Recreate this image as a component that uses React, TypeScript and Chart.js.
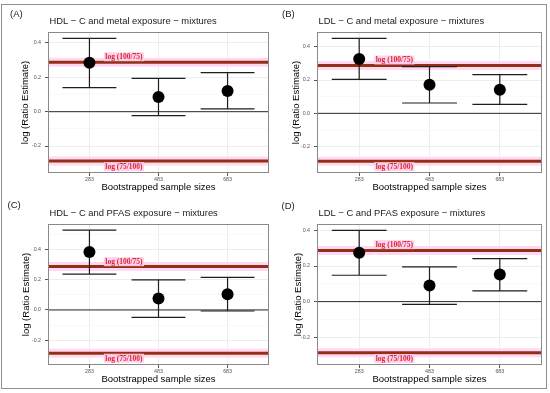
import React, { useEffect, useRef } from 'react';
import { Chart, registerables } from 'chart.js';

Chart.register(...registerables);

// ---------- data ----------
const sampleSizes = ['283', '483', '683'];
const categoryPos = [1, 2, 3];

const hdlMetalEst = [0.285, 0.085, 0.12];
const hdlMetalLow = [0.14, -0.023, 0.016];
const hdlMetalHigh = [0.427, 0.194, 0.227];

const ldlMetalEst = [0.326, 0.172, 0.142];
const ldlMetalLow = [0.204, 0.062, 0.054];
const ldlMetalHigh = [0.45, 0.28, 0.232];

const hdlPfasEst = [0.384, 0.076, 0.104];
const hdlPfasLow = [0.238, -0.049, -0.007];
const hdlPfasHigh = [0.529, 0.2, 0.216];

const ldlPfasEst = [0.274, 0.09, 0.152];
const ldlPfasLow = [0.148, -0.015, 0.06];
const ldlPfasHigh = [0.4, 0.195, 0.242];

const upperRef = Math.log(100 / 75);
const lowerRef = Math.log(75 / 100);
const refLabels = ['log (100/75)', 'log (75/100)'];
const refLabelY = [0.32, -0.32];
const refLabelX = 1.5;

const yTicksShort = [-0.3, -0.2, -0.1, 0, 0.1, 0.2, 0.3, 0.4];
const yTicksTall = [-0.3, -0.2, -0.1, 0, 0.1, 0.2, 0.3, 0.4, 0.5];
const xRange = [0.4, 3.6];

const yRangeA = [-0.357, 0.464];
const yRangeB = [-0.358, 0.488];
const yRangeC = [-0.365, 0.57];
const yRangeD = [-0.356, 0.436];

const panelLabels = ['(A)', '(B)', '(C)', '(D)'];
const panelTitles = [
  'HDL \u2212 C and metal exposure \u2212 mixtures',
  'LDL \u2212 C and metal exposure \u2212 mixtures',
  'HDL \u2212 C and PFAS exposure \u2212 mixtures',
  'LDL \u2212 C and PFAS exposure \u2212 mixtures',
];
const xAxisTitle = 'Bootstrapped sample sizes';
const yAxisTitle = 'log (Ratio Estimate)';

// ---------- styling / layout ----------
const SANS = '"Liberation Sans", Arial, sans-serif';
const SERIF = '"Liberation Serif", "Times New Roman", serif';
const CAP_HALF = 0.39;

type Layout = {
  left: number; top: number; w: number; h: number;
  axisW: number; axisH: number; padTop: number; padRight: number;
  yTitlePad: number; xTitlePad: number; labelX: number; labelY: number;
};

type PanelCfg = {
  label: string; title: string;
  est: number[]; low: number[]; high: number[];
  yRange: number[]; yTicks: number[]; layout: Layout;
};

const panels: PanelCfg[] = [
  {
    label: panelLabels[0], title: panelTitles[0],
    est: hdlMetalEst, low: hdlMetalLow, high: hdlMetalHigh,
    yRange: yRangeA, yTicks: yTicksShort,
    layout: { left: 0, top: 0, w: 275, h: 196, axisW: 48, axisH: 23, padTop: 32, padRight: 3, yTitlePad: 19.3, xTitlePad: 3.3, labelX: 10, labelY: 14 },
  },
  {
    label: panelLabels[1], title: panelTitles[1],
    est: ldlMetalEst, low: ldlMetalLow, high: ldlMetalHigh,
    yRange: yRangeB, yTicks: yTicksShort,
    layout: { left: 275, top: 0, w: 275, h: 196, axisW: 42, axisH: 23, padTop: 32, padRight: 8, yTitlePad: 16, xTitlePad: 3.3, labelX: 7, labelY: 14 },
  },
  {
    label: panelLabels[2], title: panelTitles[2],
    est: hdlPfasEst, low: hdlPfasLow, high: hdlPfasHigh,
    yRange: yRangeC, yTicks: yTicksTall,
    layout: { left: 0, top: 196, w: 275, h: 197, axisW: 48, axisH: 28, padTop: 28, padRight: 3, yTitlePad: 21, xTitlePad: 8, labelX: 7.5, labelY: 9.5 },
  },
  {
    label: panelLabels[3], title: panelTitles[3],
    est: ldlPfasEst, low: ldlPfasLow, high: ldlPfasHigh,
    yRange: yRangeD, yTicks: yTicksShort,
    layout: { left: 275, top: 196, w: 275, h: 197, axisW: 42, axisH: 28, padTop: 28, padRight: 8, yTitlePad: 17.6, xTitlePad: 8, labelX: 6.5, labelY: 10 },
  },
];

const isMajor = (v: number) => Math.round(v * 10) % 2 === 0;

function errorBarPoints(low: number[], high: number[]) {
  const pts: { x: number; y: number | null }[] = [];
  categoryPos.forEach((c, i) => {
    pts.push(
      { x: c - CAP_HALF, y: high[i] }, { x: c + CAP_HALF, y: high[i] }, { x: c, y: null },
      { x: c, y: high[i] }, { x: c, y: low[i] }, { x: c, y: null },
      { x: c - CAP_HALF, y: low[i] }, { x: c + CAP_HALF, y: low[i] }, { x: c, y: null },
    );
  });
  return pts;
}

const hline = (v: number) => [{ x: xRange[0], y: v }, { x: xRange[1], y: v }];

function decorPlugin(cfg: PanelCfg) {
  return {
    id: 'panelDecor',
    afterDatasetsDraw(chart: any) {
      const { ctx, chartArea, scales } = chart;
      ctx.save();
      ctx.font = `bold 7.5px ${SERIF}`;
      ctx.textAlign = 'center';
      ctx.textBaseline = 'middle';
      refLabels.forEach((t, i) => {
        const px = scales.x.getPixelForValue(refLabelX);
        const py = scales.y.getPixelForValue(refLabelY[i]);
        const w = ctx.measureText(t).width;
        ctx.fillStyle = 'rgba(255, 205, 238, 0.9)';
        ctx.fillRect(px - w / 2 - 1.5, py - 4.5, w + 3, 9);
        ctx.fillStyle = '#d8262c';
        ctx.fillText(t, px, py + 0.5);
      });
      // panel border
      ctx.strokeStyle = '#8a8a8a';
      ctx.lineWidth = 1;
      ctx.strokeRect(
        Math.round(chartArea.left) + 0.5, Math.round(chartArea.top) + 0.5,
        Math.round(chartArea.right - chartArea.left) - 1, Math.round(chartArea.bottom - chartArea.top) - 1,
      );
      ctx.restore();
    },
    afterDraw(chart: any) {
      const { ctx, chartArea } = chart;
      ctx.save();
      ctx.fillStyle = '#1a1a1a';
      ctx.textBaseline = 'middle';
      ctx.textAlign = 'left';
      ctx.font = `9.4px ${SANS}`;
      ctx.fillText(cfg.title, chartArea.left + 1.5, chartArea.top - 10.5);
      ctx.font = `9.5px ${SANS}`;
      ctx.fillText(cfg.label, cfg.layout.labelX, cfg.layout.labelY);
      ctx.restore();
    },
  };
}

function Panel({ cfg }: { cfg: PanelCfg }) {
  const ref = useRef<HTMLCanvasElement | null>(null);
  useEffect(() => {
    if (!ref.current) return;
    const L = cfg.layout;
    const points = categoryPos.map((c, i) => ({ x: c, y: cfg.est[i] }));
    const chart = new Chart(ref.current, {
      type: 'scatter',
      data: {
        datasets: [
          {
            data: points, showLine: false, pointRadius: 6, pointHoverRadius: 6,
            backgroundColor: '#000', borderColor: '#000', borderWidth: 0,
          },
          {
            data: errorBarPoints(cfg.low, cfg.high), showLine: true, pointRadius: 0, pointHoverRadius: 0,
            borderColor: '#1e1e1e', borderWidth: 1.2, spanGaps: false,
          },
          {
            data: hline(0), showLine: true, pointRadius: 0, borderColor: '#2a2a2a', borderWidth: 1,
          },
          {
            data: hline(upperRef), showLine: true, pointRadius: 0, borderColor: '#932f14', borderWidth: 3,
          },
          {
            data: hline(lowerRef), showLine: true, pointRadius: 0, borderColor: '#932f14', borderWidth: 3,
          },
          {
            data: hline(upperRef), showLine: true, pointRadius: 0, borderColor: '#ffd8f1', borderWidth: 9,
          },
          {
            data: hline(lowerRef), showLine: true, pointRadius: 0, borderColor: '#ffd8f1', borderWidth: 9,
          },
        ] as any,
      },
      options: {
        animation: false,
        responsive: false,
        devicePixelRatio: 1,
        events: [],
        layout: { padding: { top: L.padTop, right: L.padRight, left: 0, bottom: 0 } },
        plugins: { legend: { display: false }, title: { display: false }, tooltip: { enabled: false } },
        scales: {
          x: {
            type: 'linear',
            min: xRange[0], max: xRange[1],
            afterBuildTicks: (s: any) => { s.ticks = categoryPos.map((v) => ({ value: v })); },
            afterFit: (s: any) => { s.height = L.axisH; },
            ticks: {
              callback: (_v: any, i: number) => sampleSizes[i],
              font: { size: 5.3, family: SANS }, color: '#555', padding: 0,
              maxRotation: 0, autoSkip: false,
            },
            grid: { color: '#ebebeb', lineWidth: 0.9, tickLength: 3, tickColor: '#444', drawTicks: true },
            border: { display: false },
            title: {
              display: true, text: xAxisTitle, color: '#000',
              font: { size: 9.5, family: SANS }, padding: { top: 0, bottom: L.xTitlePad },
            },
          },
          y: {
            type: 'linear',
            min: cfg.yRange[0], max: cfg.yRange[1],
            afterBuildTicks: (s: any) => { s.ticks = cfg.yTicks.map((v) => ({ value: v })); },
            afterFit: (s: any) => { s.width = L.axisW; },
            ticks: {
              callback: (v: any) => (isMajor(Number(v)) ? Number(v).toFixed(1) : ''),
              font: { size: 5.3, family: SANS }, color: '#555', padding: 4, autoSkip: false,
            },
            grid: {
              color: (c: any) => (c.tick && isMajor(c.tick.value) ? '#ebebeb' : '#f5f5f5'),
              lineWidth: (c: any) => (c.tick && isMajor(c.tick.value) ? 0.9 : 0.6),
              tickColor: (c: any) => (c.tick && isMajor(c.tick.value) ? '#444' : 'rgba(0,0,0,0)'),
              tickLength: 3, drawTicks: true,
            },
            border: { display: false },
            title: {
              display: true, text: yAxisTitle, color: '#000',
              font: { size: 9.5, family: SANS }, padding: { top: L.yTitlePad, bottom: 0 },
            },
          },
        },
      } as any,
      plugins: [decorPlugin(cfg)],
    });
    return () => chart.destroy();
  }, [cfg]);
  const L = cfg.layout;
  return (
    <canvas
      ref={ref}
      width={L.w}
      height={L.h}
      style={{ position: 'absolute', left: L.left, top: L.top, width: L.w, height: L.h }}
    />
  );
}

export default function App() {
  return (
    <div style={{ position: 'fixed', left: 0, top: 0, width: 550, height: 393, background: '#fff', overflow: 'hidden' }}>
      {panels.map((p) => (
        <Panel key={p.label} cfg={p} />
      ))}
      <div
        style={{
          position: 'absolute', left: 1, top: 4, width: 546, height: 385,
          border: '1px solid #8f8f8f', boxSizing: 'border-box', pointerEvents: 'none',
        }}
      />
    </div>
  );
}
